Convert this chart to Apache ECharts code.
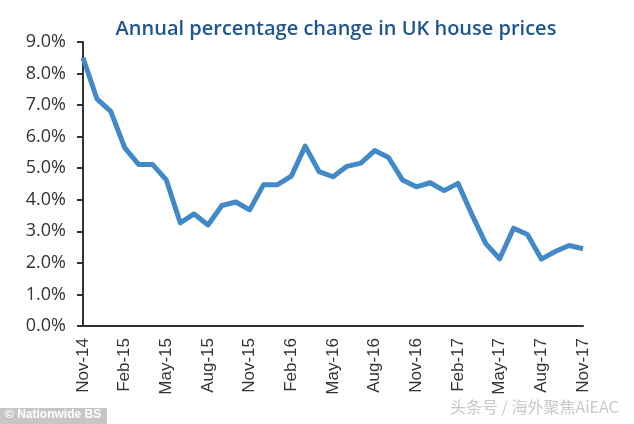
<!DOCTYPE html>
<html>
<head>
<meta charset="utf-8">
<script src="https://cdn.jsdelivr.net/npm/echarts@6/dist/echarts.min.js"></script>
<style>html,body{margin:0;padding:0;background:#fff}#c{width:634px;height:424px}</style>
</head>
<body>
<div id="c"></div>
<script>
const months = ["Nov-14","Dec-14","Jan-15","Feb-15","Mar-15","Apr-15","May-15","Jun-15","Jul-15","Aug-15","Sep-15","Oct-15",
  "Nov-15","Dec-15","Jan-16","Feb-16","Mar-16","Apr-16","May-16","Jun-16","Jul-16","Aug-16","Sep-16","Oct-16",
  "Nov-16","Dec-16","Jan-17","Feb-17","Mar-17","Apr-17","May-17","Jun-17","Jul-17","Aug-17","Sep-17","Oct-17","Nov-17"];
const annualChange = [8.5,7.2,6.8,5.65,5.12,5.12,4.63,3.27,3.55,3.2,3.82,3.93,
  3.68,4.48,4.48,4.75,5.7,4.89,4.73,5.06,5.16,5.56,5.34,4.63,
  4.41,4.54,4.29,4.52,3.53,2.61,2.13,3.1,2.9,2.12,2.36,2.55,2.45];
const yTicks = [0,1,2,3,4,5,6,7,8,9];

const chart = echarts.init(document.getElementById('c'), null, {renderer:'canvas'});
chart.setOption({
  animation:false,
  backgroundColor:'#fff',
  title:{
    text:'Annual percentage change in UK house prices',
    left:331, top:14, textAlign:'center',
    textStyle:{fontFamily:'Open Sans', fontWeight:600, fontSize:20, color:'#1f5590'}
  },
  grid:{left:83, right:51, top:42, bottom:98, containLabel:false},
  xAxis:{
    type:'category', data:months, boundaryGap:false,
    axisLine:{show:true, lineStyle:{color:'#333', width:2}},
    axisTick:{show:false},
    axisLabel:{interval:2, rotate:90, margin:12, fontFamily:'Liberation Sans', fontSize:17, color:'#333'},
    splitLine:{show:false}
  },
  yAxis:{
    type:'value', min:yTicks[0], max:yTicks[yTicks.length-1], interval:1,
    axisLine:{show:true, lineStyle:{color:'#333', width:2}},
    axisTick:{show:true, length:6, lineStyle:{color:'#333', width:2}},
    axisLabel:{formatter:v=>v.toFixed(1)+'%', margin:17, fontFamily:'Open Sans', fontSize:18, color:'#333'},
    splitLine:{show:false}
  },
  series:[{
    type:'line', data:annualChange, symbol:'none',
    lineStyle:{color:'#4189c7', width:5, join:'round'}
  }],
  graphic:[
    {type:'rect', left:0, top:408, shape:{width:107, height:16}, style:{fill:'#c6c6c6'}},
    {type:'text', left:5, top:409, style:{text:'© Nationwide BS', fill:'#fff', font:'bold 12px Liberation Sans'}},
    {type:'text', left:450, top:399, style:{text:'头条号 / 海外聚焦AiEAC', fill:'#c8c8c8', font:'16px "Noto Sans CJK SC"'}}
  ]
});
</script>
</body>
</html>
